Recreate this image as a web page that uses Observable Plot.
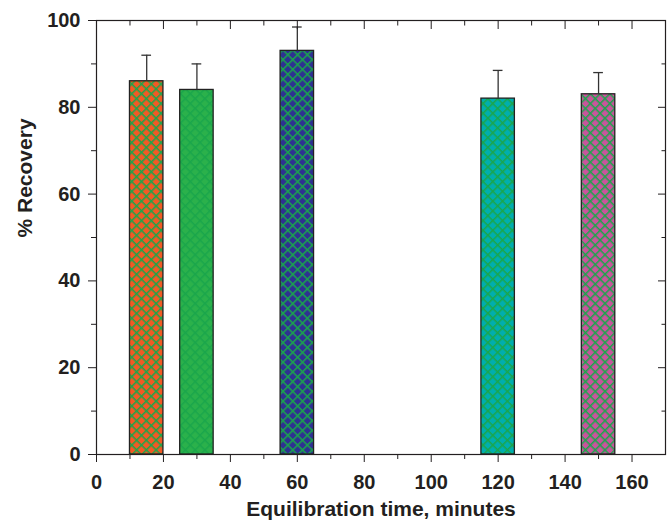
<!DOCTYPE html>
<html><head><meta charset="utf-8">
<script src="https://cdn.jsdelivr.net/npm/d3@7"></script>
<script src="https://cdn.jsdelivr.net/npm/@observablehq/plot@0.6"></script>
<style>
body{margin:0;background:#fff}
#chart svg{display:block}
</style>
</head><body><div id="chart"></div>
<script>
// ---- data ----
const times = [15, 30, 60, 120, 150];            // equilibration time, minutes
const recovery = [86, 84, 93, 82, 83];           // % recovery
const errors = [6, 6, 5.5, 6.5, 5];              // upper error bar size
const barColors = ["#F15A24", "#2BB14B", "#2E3192", "#00AEAE", "#C8559C"];
const xMajorTicks = [0, 20, 40, 60, 80, 100, 120, 140, 160];
const xMinorTicks = [10, 30, 50, 70, 90, 110, 130, 150];
const yMajorTicks = [0, 20, 40, 60, 80, 100];
const yMinorTicks = [10, 30, 50, 70, 90];
const xLabel = "Equilibration time, minutes";
const yLabel = "% Recovery";

const barHalf = 5;   // bar half-width in minutes
const capHalf = 1.45;

const data = times.map((t, i) => ({
  t, value: recovery[i], err: errors[i], color: barColors[i]
}));

const font = "'Liberation Sans', Arial, Helvetica, sans-serif";
const ink = "#231f20";

const plot = Plot.plot({
  width: 667,
  height: 520,
  marginLeft: 96,
  marginRight: 2,
  marginTop: 20,
  marginBottom: 66,
  x: {domain: [0, 170]},
  y: {domain: [0, 100]},
  color: {type: "identity"},
  style: {fontFamily: font, fontWeight: "bold", fontSize: "20px", color: ink, background: "#fff"},
  marks: [
    // bars
    Plot.rectY(data, {x1: d => d.t - barHalf, x2: d => d.t + barHalf, y: "value", fill: "color"}),
    Plot.rectY(data, {x1: d => d.t - barHalf, x2: d => d.t + barHalf, y: "value", fill: "url(#xhatch)"}),
    Plot.rectY(data, {x1: d => d.t - barHalf, x2: d => d.t + barHalf, y: "value", fill: "none", stroke: "#222", strokeWidth: 1.3}),
    // error bars
    Plot.ruleX(data, {x: "t", y1: "value", y2: d => d.value + d.err, stroke: "#333", strokeWidth: 1.3}),
    Plot.ruleY(data, {y: d => d.value + d.err, x1: d => d.t - capHalf, x2: d => d.t + capHalf, stroke: "#333", strokeWidth: 1.3}),
    // axes: bottom
    Plot.axisX(xMajorTicks, {anchor: "bottom", tickSize: 8, tickPadding: 12, label: null, stroke: ink, fill: ink, fontSize: 20}),
    Plot.axisX(xMinorTicks, {anchor: "bottom", tickSize: 5, label: null, stroke: ink, fill: "none"}),
    // top (inward)
    Plot.axisX(xMajorTicks, {anchor: "top", tickSize: -8, label: null, stroke: ink, fill: "none"}),
    Plot.axisX(xMinorTicks, {anchor: "top", tickSize: -4.5, label: null, stroke: ink, fill: "none"}),
    // left
    Plot.axisY(yMajorTicks, {anchor: "left", tickSize: 8, tickPadding: 8, label: null, stroke: ink, fill: ink, fontSize: 20}),
    Plot.axisY(yMinorTicks, {anchor: "left", tickSize: 5, label: null, stroke: ink, fill: "none"}),
    // right (inward)
    Plot.axisY(yMajorTicks, {anchor: "right", tickSize: -8, label: null, stroke: ink, fill: "none"}),
    Plot.axisY(yMinorTicks, {anchor: "right", tickSize: -4.5, label: null, stroke: ink, fill: "none"}),
    Plot.frame({stroke: ink, strokeWidth: 1.2}),
    // axis titles
    Plot.text([xLabel], {frameAnchor: "bottom", dy: 47, lineAnchor: "top", fontSize: 21, fill: ink}),
    Plot.text([yLabel], {frameAnchor: "left", dx: -71, rotate: -90, lineAnchor: "middle", fontSize: 21, fill: ink})
  ]
});

// crosshatch pattern
const defs = d3.select(plot).insert("defs", ":first-child");
const cell = 6.9, lw = 1.5, hatch = "#1AA64B";
const pat = defs.append("pattern")
  .attr("id", "xhatch")
  .attr("patternUnits", "userSpaceOnUse")
  .attr("width", cell).attr("height", cell)
  .attr("patternTransform", "rotate(45)");
pat.append("rect").attr("x", 0).attr("y", 0).attr("width", cell).attr("height", lw).attr("fill", hatch);
pat.append("rect").attr("x", 0).attr("y", 0).attr("width", lw).attr("height", cell).attr("fill", hatch);

document.getElementById("chart").appendChild(plot);
</script>
</body></html>
